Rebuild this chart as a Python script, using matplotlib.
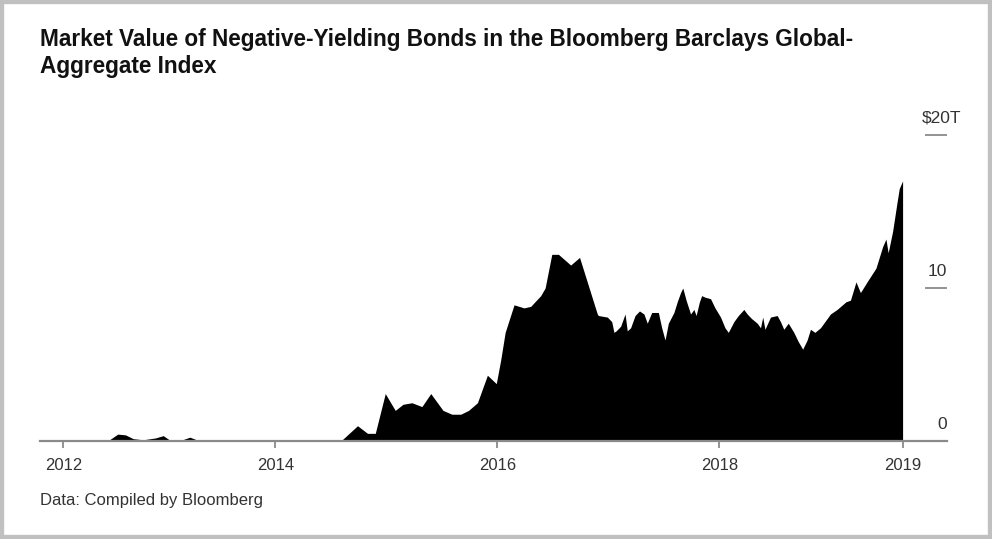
import matplotlib
matplotlib.use("Agg")
import matplotlib.pyplot as plt
from matplotlib import transforms
from matplotlib.patches import Rectangle

# ---- data (decimal year, market value in $ trillions) ----
years = [2011.88, 2012.38, 2012.42, 2012.49, 2012.51, 2012.58, 2012.65, 2012.72, 2012.81,
         2012.92, 2012.99, 2013.05, 2013.14, 2013.23, 2013.30, 2013.37, 2014.59, 2014.74,
         2014.83, 2014.90, 2014.99, 2015.08, 2015.15, 2015.23, 2015.32, 2015.40, 2015.51,
         2015.59, 2015.67, 2015.74, 2015.82, 2015.91, 2015.99, 2016.03, 2016.07, 2016.15,
         2016.24, 2016.30, 2016.39, 2016.43, 2016.49, 2016.55, 2016.66, 2016.74, 2016.90,
         2016.91, 2016.99, 2017.03, 2017.05, 2017.07, 2017.11, 2017.15, 2017.17, 2017.20,
         2017.24, 2017.28, 2017.32, 2017.35, 2017.39, 2017.45, 2017.48, 2017.51, 2017.54,
         2017.59, 2017.62, 2017.65, 2017.67, 2017.70, 2017.74, 2017.77, 2017.79, 2017.82,
         2017.84, 2017.87, 2017.92, 2017.96, 2018.01, 2018.05, 2018.08, 2018.13, 2018.17,
         2018.22, 2018.25, 2018.29, 2018.34, 2018.37, 2018.39, 2018.41, 2018.46, 2018.52,
         2018.55, 2018.58, 2018.62, 2018.67, 2018.71, 2018.75, 2018.79, 2018.82, 2018.86,
         2018.91, 2019.00, 2019.06, 2019.14, 2019.18, 2019.23, 2019.27, 2019.33, 2019.41,
         2019.47, 2019.50, 2019.52, 2019.56, 2019.60, 2019.62, 2019.65]
values = [0.0, 0.0, 0.05, 0.08, 0.1, 0.45, 0.4, 0.15, 0.08,
          0.2, 0.35, 0.05, 0.02, 0.25, 0.05, 0.0, 0.0, 1.0,
          0.5, 0.5, 3.1, 2.0, 2.4, 2.5, 2.25, 3.1, 2.0,
          1.75, 1.75, 2.0, 2.5, 4.3, 3.75, 5.3, 7.1, 8.9,
          8.7, 8.8, 9.5, 10.0, 12.2, 12.2, 11.5, 12.0, 8.3,
          8.2, 8.1, 7.8, 7.1, 7.2, 7.5, 8.3, 7.2, 7.4,
          8.2, 8.5, 8.3, 7.7, 8.4, 8.4, 7.4, 6.6, 7.7,
          8.4, 9.1, 9.7, 10.0, 9.2, 8.3, 8.6, 8.2, 9.1,
          9.5, 9.4, 9.3, 8.7, 8.1, 7.4, 7.1, 7.8, 8.2,
          8.6, 8.3, 8.0, 7.7, 7.4, 8.1, 7.3, 8.1, 8.2,
          7.8, 7.3, 7.7, 7.1, 6.5, 6.0, 6.6, 7.3, 7.1,
          7.4, 8.3, 8.6, 9.1, 9.2, 10.4, 9.7, 10.4, 11.3,
          12.7, 13.2, 12.3, 13.7, 15.6, 16.5, 17.0]

xtick_pos = [2012.09, 2014, 2016, 2018, 2019.65]
xtick_labels = ["2012", "2014", "2016", "2018", "2019"]
ytick_pos = [0, 10, 20]
ytick_labels = ["0", "10", "$20T"]

title_lines = ["Market Value of Negative-Yielding Bonds in the Bloomberg Barclays Global-",
               "Aggregate Index"]
source = "Data: Compiled by Bloomberg"

plt.rcParams['font.family'] = ['Liberation Sans', 'DejaVu Sans']

W, H = 992, 539
fig = plt.figure(figsize=(W / 100, H / 100), dpi=100)
fig.patch.set_facecolor("white")

ax = fig.add_axes([40 / W, 1 - 441 / H, 907 / W, (441 - 119.7) / H])
ax.fill_between(years, 0, values, color="black", linewidth=0)
ax.set_xlim(2011.88, 2020.05)
ax.set_ylim(0, 21)

for s in ["top", "left", "right"]:
    ax.spines[s].set_visible(False)
ax.spines["bottom"].set_color("#8a8a8a")
ax.spines["bottom"].set_linewidth(1.6)
ax.spines["bottom"].set_zorder(3)

ax.set_xticks(xtick_pos)
ax.set_xticklabels(xtick_labels)
ax.tick_params(axis="x", direction="out", length=5, width=1.3, color="#8a8a8a",
               labelsize=12, labelcolor="#333333", pad=7)

ax.yaxis.tick_right()
ax.set_yticks(ytick_pos)
ax.tick_params(axis="y", direction="in", length=16, width=1.3, color="#8a8a8a",
               labelright=False, labelleft=False)

tr = transforms.blended_transform_factory(ax.transAxes, ax.transData)
for v, lab in zip(ytick_pos, ytick_labels):
    xr = 1.0 if lab != "$20T" else (961 - 40) / 907
    ax.text(xr, v + 1.1, lab, transform=tr, ha="right", va="center",
            fontsize=12.5, color="#333333", clip_on=False)

for i, line in enumerate(title_lines):
    fig.text(40 / W, 1 - (46 + 27.3 * i) / H, line, ha="left", va="baseline",
             fontsize=16.3, fontweight="bold", color="#111111")
fig.text(40 / W, 1 - 500 / H, source, ha="left", va="center", fontsize=12,
         color="#333333")

fig.add_artist(Rectangle((0, 0), 1, 1, transform=fig.transFigure, fill=False,
                         edgecolor="#c0c0c0", linewidth=6, clip_on=False))

fig.savefig("out.png", dpi=100, facecolor="white")
